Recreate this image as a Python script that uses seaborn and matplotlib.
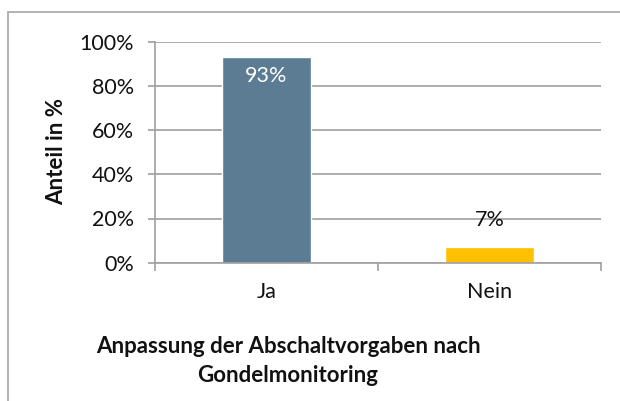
import matplotlib
matplotlib.use("Agg")
import matplotlib.pyplot as plt
import seaborn as sns
import pandas as pd
from matplotlib.patches import Rectangle
from matplotlib.ticker import FuncFormatter

categories = ["Ja", "Nein"]
values = [93, 7]
value_labels = ["93%", "7%"]
colors = ["#5B7C93", "#FFC000"]
yticks = [0, 20, 40, 60, 80, 100]

sns.set_style("white")
plt.rcParams["font.family"] = ["Lato", "DejaVu Sans"]

W, H = 620, 401
FS = 15.5
fig = plt.figure(figsize=(W / 100, H / 100), dpi=100)

# outer frame
fig.patches.append(Rectangle((8 / W, -0.05), 1.2, 1 - 12 / H + 0.05,
                             transform=fig.transFigure, fill=False,
                             edgecolor="#A6A6A6", linewidth=1.2))

ax = fig.add_axes([155 / W, (H - 262.7) / H, (601 - 155) / W, (262.7 - 41.7) / H])
df = pd.DataFrame({"cat": categories, "val": values})
sns.barplot(data=df, x="cat", y="val", hue="cat", palette=colors, width=0.40,
            ax=ax, legend=False, saturation=1)

ax.set_xlim(-0.5, 1.5)
ax.set_ylim(0, 100)
ax.set_yticks(yticks)
ax.yaxis.set_major_formatter(FuncFormatter(lambda v, p: f"{int(v)}%"))
ax.yaxis.grid(True, color="#A0A0A0", linewidth=1.2)
ax.set_axisbelow(True)
for s in ["top", "right"]:
    ax.spines[s].set_visible(False)
for s in ["left", "bottom"]:
    ax.spines[s].set_color("#A0A0A0")
    ax.spines[s].set_linewidth(1.2)

ax.tick_params(axis="y", length=5, width=1.2, color="#A0A0A0", labelsize=FS,
               labelcolor="#111111", pad=10, left=True)
ax.set_xticks([-0.5, 0.5, 1.5], minor=True)
ax.tick_params(axis="x", which="minor", length=6, width=1.2, color="#A0A0A0", bottom=True)
ax.tick_params(axis="x", which="major", length=0, labelsize=FS, labelcolor="#111111", pad=14)
ax.set_xlabel("")
ax.set_ylabel("Anteil in %", fontsize=16, fontweight="bold", color="#111111")
ax.yaxis.set_label_coords(67 / W, 1 - 152 / H, transform=fig.transFigure)

# data labels
for i, (v, lab) in enumerate(zip(values, value_labels)):
    if v > 50:
        ax.text(i, v - 8.5, lab, ha="center", va="center", color="white", fontsize=FS)
    else:
        ax.text(i, v + 12.3, lab, ha="center", va="center", color="#111111", fontsize=FS)

fig.text(288 / W, 1 - 361 / H, "Anpassung der Abschaltvorgaben nach\nGondelmonitoring",
         ha="center", va="center", fontsize=16, fontweight="bold",
         linespacing=1.45, color="#111111")

fig.savefig("out.png", dpi=100)
